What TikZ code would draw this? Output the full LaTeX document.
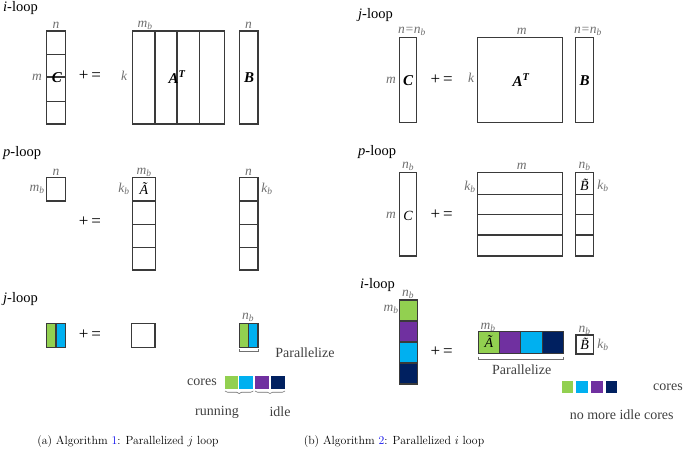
\documentclass[tikz,border=0pt]{standalone}
\usepackage{fontspec}
\usetikzlibrary{decorations.pathreplacing}
\newfontfamily\tms{Liberation Serif}
\definecolor{boxc}{HTML}{3A3A3A}
\definecolor{lblc}{HTML}{707070}
\definecolor{wordc}{HTML}{404040}
\definecolor{cgreen}{HTML}{92D050}
\definecolor{cblue}{HTML}{00B0F0}
\definecolor{cpurple}{HTML}{7030A0}
\definecolor{cnavy}{HTML}{002060}
\definecolor{capblue}{HTML}{1010F0}
\newcommand\lmb{m\textsubscript{b}}
\newcommand\lnb{n\textsubscript{b}}
\newcommand\lkb{k\textsubscript{b}}
\tikzset{
  box/.style={draw=boxc, line width=1.1pt},
  lbl/.style={text=lblc, font=\tms\itshape\fontsize{13.5}{13.5}\selectfont, inner sep=0pt},
  ttl/.style={font=\tms\fontsize{14.5}{14.5}\selectfont, anchor=west, inner sep=0pt},
  big/.style={font=\tms\bfseries\itshape\fontsize{15}{15}\selectfont, inner sep=0pt},
  mat/.style={font=\tms\itshape\fontsize{14}{14}\selectfont, inner sep=0pt},
  op/.style={font=\tms\fontsize{17}{17}\selectfont, inner sep=0pt},
  word/.style={font=\tms\fontsize{14}{14}\selectfont, text=wordc, inner sep=0pt},
  brk/.style={draw=lblc, line width=0.6pt},
  brc/.style={draw=lblc, line width=0.6pt, decorate, decoration={brace, mirror, amplitude=2.5pt}},
  captxt/.style={font=\fontsize{11.8}{11.8}\selectfont, inner sep=0pt}
}
\begin{document}
\begin{tikzpicture}[x=1pt,y=-1pt]
\useasboundingbox (0,0) rectangle (685,458);

%%%%% LEFT: i-loop
\node[ttl] (t1) at (3,8) {\textit{i}-loop};
\draw[box] (46.7,31) rectangle (65.7,124);
\foreach \yy in {54.3,77,101.7} \draw[box] (46.7,\yy) -- (65.7,\yy);
\node[lbl] (n1) at (56,25) {n};
\node[lbl] (m1) at (37,77) {m};
\node[big] (C1) at (57,78) {C};
\node[op] (eq1) at (90,76) {+\,=};
\draw[box] (132.3,31) rectangle (224.3,124);
\foreach \xx in {155,177,199.5} \draw[box] (\xx,31) -- (\xx,124);
\node[lbl] (mb1) at (145,25) {\lmb};
\node[lbl] (k1) at (124,76) {k};
\node[big] (A1) at (177,77) {A\textsuperscript{T}};
\draw[box] (239.3,31) rectangle (258,124);
\node[lbl] (n1b) at (248.5,25) {n};
\node[big] (B1) at (249,78) {B};

%%%%% LEFT: p-loop
\node[ttl] (t2) at (3,153) {\textit{p}-loop};
\draw[box] (46.7,177.7) rectangle (65.7,201);
\node[lbl] (n2) at (56,172) {n};
\node[lbl] (mb2) at (37,189) {\lmb};
\node[op] (eq2) at (90,222) {+\,=};
\draw[box] (132.3,177.7) rectangle (155.7,270);
\foreach \yy in {201,224.3,247.7} \draw[box] (132.3,\yy) -- (155.7,\yy);
\node[lbl] (mb2a) at (144,172) {\lmb};
\node[lbl] (kb2) at (124,189) {\lkb};
\node[mat] (At2) at (144,189) {\~{A}};
\draw[box] (239.3,177.7) rectangle (258,270);
\foreach \yy in {201,224.3,247.7} \draw[box] (239.3,\yy) -- (258,\yy);
\node[lbl] (n2b) at (248.5,172) {n};
\node[lbl] (kb2b) at (267,189) {\lkb};

%%%%% LEFT: j-loop
\node[ttl] (t3) at (3,299) {\textit{j}-loop};
\fill[cgreen] (46.7,323.3) rectangle (56,347.3);
\fill[cblue] (56,323.3) rectangle (65.7,347.3);
\draw[box] (46.7,323.3) rectangle (65.7,347.3);
\draw[box] (56,323.3) -- (56,347.3);
\node[op] (eq3) at (90,335) {+\,=};
\draw[box] (131.7,323.3) rectangle (155,347.3);
\fill[cgreen] (239.3,323.3) rectangle (248.5,347.3);
\fill[cblue] (248.5,323.3) rectangle (258,347.3);
\draw[box] (239.3,323.3) rectangle (258,347.3);
\draw[box] (248.5,323.3) -- (248.5,347.3);
\node[lbl] (nb3) at (248,317) {\lnb};
\draw[brk] (239.3,349) -- (239.3,351.5) -- (258,351.5) -- (258,349);
\node[word] (par1) at (305,353) {Parallelize};
\node[word] (cores1) at (202,382) {cores};
\fill[cgreen] (225,376) rectangle (237.7,389);
\fill[cblue] (239.3,376) rectangle (253.3,389);
\fill[cpurple] (255,376) rectangle (269,389);
\fill[cnavy] (270.7,376) rectangle (285,389);
\draw[brc] (225,391) -- (253.3,391);
\draw[brc] (255,391) -- (285,391);
\node[word] (run) at (217,412) {running};
\node[word] (idle) at (280,412) {idle};

%%%%% RIGHT: j-loop
\node[ttl] (t4) at (358,15) {\textit{j}-loop};
\draw[box] (399.3,37.7) rectangle (416.7,122.3);
\node[lbl] (nn4) at (412,31.5) {n=\lnb};
\node[lbl] (m4) at (391,80) {m};
\node[big] (C4) at (408,81) {C};
\node[op] (eq4) at (441.7,80) {+\,=};
\draw[box] (477.7,37.7) rectangle (562.3,122.3);
\node[lbl] (m4a) at (521.7,31) {m};
\node[lbl] (k4) at (471,78) {k};
\node[big] (A4) at (521,80) {A\textsuperscript{T}};
\draw[box] (575.7,37.7) rectangle (593.3,122.3);
\node[lbl] (nn4b) at (588,31.5) {n=\lnb};
\node[big] (B4) at (584.5,81) {B};

%%%%% RIGHT: p-loop
\node[ttl] (t5) at (358,152) {\textit{p}-loop};
\draw[box] (399.3,172.3) rectangle (416.7,256);
\node[lbl] (nb5) at (408,166.5) {\lnb};
\node[lbl] (m5) at (391,215) {m};
\node[mat] (C5) at (408,216) {C};
\node[op] (eq5) at (441.7,215) {+\,=};
\draw[box] (477.7,172.3) rectangle (562.3,256);
\foreach \yy in {194.3,214.3,235} \draw[box] (477.7,\yy) -- (562.3,\yy);
\node[lbl] (m5a) at (521.7,166.5) {m};
\node[lbl] (kb5) at (470,187) {\lkb};
\draw[box] (575.7,172.3) rectangle (593.3,256);
\foreach \yy in {194.3,214.3,235} \draw[box] (575.7,\yy) -- (593.3,\yy);
\node[lbl] (nb5b) at (584.5,166.5) {\lnb};
\node[mat] (Bt5) at (584.5,185) {\~{B}};
\node[lbl] (kb5b) at (603,186) {\lkb};

%%%%% RIGHT: i-loop
\node[ttl] (t6) at (360,285) {\textit{i}-loop};
\fill[cgreen] (399.3,300) rectangle (417.3,321);
\fill[cpurple] (399.3,321) rectangle (417.3,342);
\fill[cblue] (399.3,342) rectangle (417.3,363);
\fill[cnavy] (399.3,363) rectangle (417.3,384);
\draw[box] (399.3,300) rectangle (417.3,384);
\foreach \yy in {321,342,363} \draw[box] (399.3,\yy) -- (417.3,\yy);
\node[lbl] (nb6) at (408,294) {\lnb};
\node[lbl] (mb6) at (391,309) {\lmb};
\node[op] (eq6) at (441.7,352) {+\,=};
\fill[cgreen] (478.3,331.7) rectangle (499.55,353.3);
\fill[cpurple] (499.55,331.7) rectangle (520.8,353.3);
\fill[cblue] (520.8,331.7) rectangle (542.05,353.3);
\fill[cnavy] (542.05,331.7) rectangle (563.3,353.3);
\draw[box] (478.3,331.7) rectangle (563.3,353.3);
\foreach \xx in {499.55,520.8,542.05} \draw[box] (\xx,331.7) -- (\xx,353.3);
\node[mat] (At6) at (489,342) {\~{A}};
\node[lbl] (mb6a) at (488,327) {\lmb};
\draw[brk] (478.3,356.5) -- (478.3,359.5) -- (563.3,359.5) -- (563.3,356.5);
\node[word] (par2) at (521.7,369.5) {Parallelize};
\draw[box] (576,335) rectangle (593.3,354);
\node[mat] (Bt6) at (584.7,344) {\~{B}};
\node[lbl] (nb6b) at (584.7,330) {\lnb};
\node[lbl] (kb6) at (603,345) {\lkb};
\fill[cgreen] (561.7,381) rectangle (573.3,392.7);
\fill[cblue] (576,381) rectangle (588.3,392.7);
\fill[cpurple] (590.7,381) rectangle (603.3,392.7);
\fill[cnavy] (605.7,381) rectangle (617.3,392.7);
\node[word] (cores2) at (668,387) {cores};
\node[word] (nomore) at (621.7,415) {no more idle cores};

%%%%% captions
\node[captxt] (capa) at (128,441.7) {(a) Algorithm \textcolor{capblue}{1}: Parallelized $j$ loop};
\node[captxt] (capb) at (394,441.7) {(b) Algorithm \textcolor{capblue}{2}: Parallelized $i$ loop};
\end{tikzpicture}
\end{document}
